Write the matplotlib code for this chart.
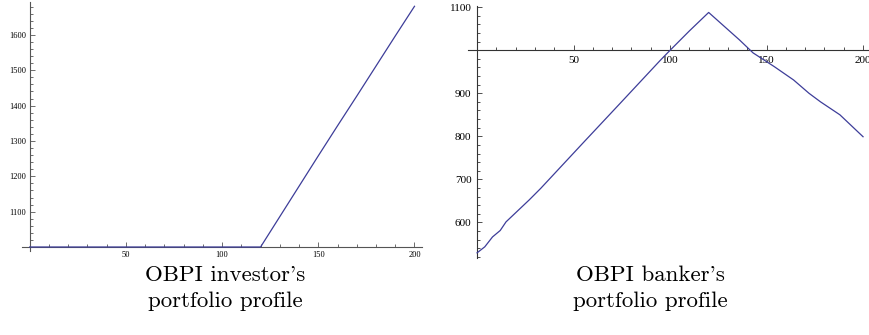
import matplotlib
matplotlib.use("Agg")
import matplotlib.pyplot as plt
from matplotlib.ticker import MultipleLocator, FixedLocator

# ---- data ----
inv_x = [0, 120, 130, 140, 150, 160, 170, 180, 190, 200]
inv_y = [1000, 1000, 1086, 1172, 1258, 1343, 1427, 1512, 1597, 1681]

bank_x = [0, 4, 8, 12, 15, 27, 33, 55, 74, 95, 100, 110, 120,
          136, 143, 154, 164, 172, 178, 188, 200]
bank_y = [529, 543, 566, 581, 601, 652, 679, 785, 876, 977, 1000, 1045, 1088,
          1024, 994, 962, 931, 900, 880, 850, 799]

inv_xticks = [50, 100, 150, 200]
inv_yticks = [1100, 1200, 1300, 1400, 1500, 1600]
bank_xticks = [50, 100, 150, 200]
bank_yticks = [600, 700, 800, 900, 1100]

captions = ["OBPI investor's\nportfolio profile",
            "OBPI banker's\nportfolio profile"]

W, H = 870, 335
fig = plt.figure(figsize=(W / 100, H / 100), dpi=100)

LINE = "#3d3d99"


def px_axes(x0, x1, ytop, ybot):
    return fig.add_axes([x0 / W, 1 - ybot / H, (x1 - x0) / W, (ybot - ytop) / H])


def style(ax, xorig, yorig, xt, yt, fs, col, xpad, ypad):
    for s in ("top", "right"):
        ax.spines[s].set_visible(False)
    ax.spines["left"].set_position(("data", xorig))
    ax.spines["bottom"].set_position(("data", yorig))
    for s in ("left", "bottom"):
        ax.spines[s].set_color(col)
        ax.spines[s].set_linewidth(0.8)
    ax.xaxis.set_major_locator(FixedLocator(xt))
    ax.yaxis.set_major_locator(FixedLocator(yt))
    ax.xaxis.set_minor_locator(MultipleLocator(10))
    ax.yaxis.set_minor_locator(MultipleLocator(20))
    ax.tick_params(which="both", direction="in", color=col, width=0.6,
                   labelsize=fs, labelcolor="black")
    ax.tick_params(which="major", length=3.5)
    ax.tick_params(which="minor", length=2.0)
    ax.tick_params(axis="x", pad=xpad)
    ax.tick_params(axis="y", pad=ypad)
    for lab in ax.get_xticklabels() + ax.get_yticklabels():
        lab.set_fontfamily("Liberation Serif")
    ax.patch.set_visible(False)


# left panel
ax1 = px_axes(22, 422, 1.7, 251)
ax1.plot(inv_x, inv_y, color=LINE, lw=0.9, zorder=5, clip_on=False)
ax1.set_xlim(-4.0, 203.9)
ax1.set_ylim(988.7, 1694)
style(ax1, 0, 1000, inv_xticks, inv_yticks, 6.0, "#555555", 3.0, 2.5)

# right panel
ax2 = px_axes(468, 870, 6, 258)
ax2.plot(bank_x, bank_y, color=LINE, lw=0.9, zorder=5, clip_on=False)
ax2.set_xlim(-4.7, 203.6)
ax2.set_ylim(517, 1103)
style(ax2, 0, 1000, bank_xticks, bank_yticks, 8, "#333333", 4.0, 4.0)

# captions
for cx, txt in zip([225, 650], captions):
    fig.text(cx / W, 1 - 288 / H, txt, ha="center", va="center",
             fontfamily="cmr10", fontsize=16.5, linespacing=1.45)

fig.savefig("out.png", dpi=100)
